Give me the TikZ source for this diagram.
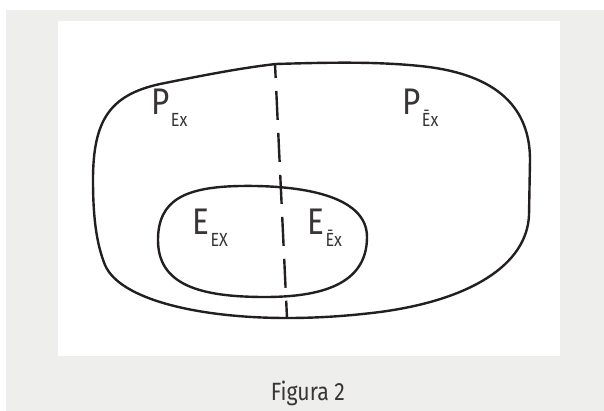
\documentclass[tikz,border=0pt]{standalone}
\usepackage{fontspec}
\setmainfont{Fira Sans}[FakeStretch=0.85]
\usetikzlibrary{positioning}
\definecolor{pagegray}{HTML}{EEEEEC}
\definecolor{ink}{HTML}{231F20}
\newcommand{\setlbl}[2]{#1\kern1.5pt\raisebox{-12pt}{\fontsize{19}{20}\selectfont #2}}
\tikzset{
  blob/.style={draw=ink,line width=2.4pt},
  lbl/.style={inner sep=0pt,anchor=base west,text=ink!90,font=\fontsize{37}{38}\selectfont},
  divider/.style={draw=ink,line width=2.4pt,dash pattern=on 29pt off 13pt,dash phase=15pt}
}
\begin{document}
\begin{tikzpicture}[x=1pt,y=-1pt]
          \useasboundingbox(0,0)rectangle(604,411);
          \fill[white](0,0)rectangle(604,411);
          \fill[pagegray](6,10)rectangle(604,411);
          \fill[white](58,21)rectangle(560,356);
          % outer set
          \draw[blob](276,64) .. controls (340,62) and (380,62) .. (420,66)
               .. controls (500,74) and (530,110) .. (530,160)
               -- (529,215)
               .. controls (527,265) and (470,300) .. (380,312)
               .. controls (340,317) and (310,318) .. (287,318)
               .. controls (200,318) and (120,300) .. (105,265)
               .. controls (97,245) and (93,220) .. (93,180)
               .. controls (93,120) and (110,95) .. (160,84)
               .. controls (200,76) and (240,68) .. (276,64) -- cycle;
          % inner set
          \draw[blob](158,240) .. controls (158,200) and (185,187) .. (240,186)
               .. controls (300,185) and (367,195) .. (367,237)
               .. controls (367,285) and (320,297) .. (265,297)
               .. controls (200,297) and (158,285) .. (158,240) -- cycle;
          % split line
          \coordinate (dtop) at (275,64);
          \coordinate (dbot) at (287,318);
          \draw[divider](dtop)--(dbot);
          \node[lbl](pex)at(151,115){\setlbl{P}{Ex}};
          \node[lbl](pnex)at(402,115){\setlbl{P}{Ēx}};
          \node[lbl](eex)at(192,235){\setlbl{E}{EX}};
          \node[lbl](enex)at(307,235){\setlbl{E}{Ēx}};
          \node[inner sep=0pt,anchor=base,text=ink!90,font=\fontsize{25}{27}\selectfont](caption)at(308,400){Figura 2};
\end{tikzpicture}
\end{document}
